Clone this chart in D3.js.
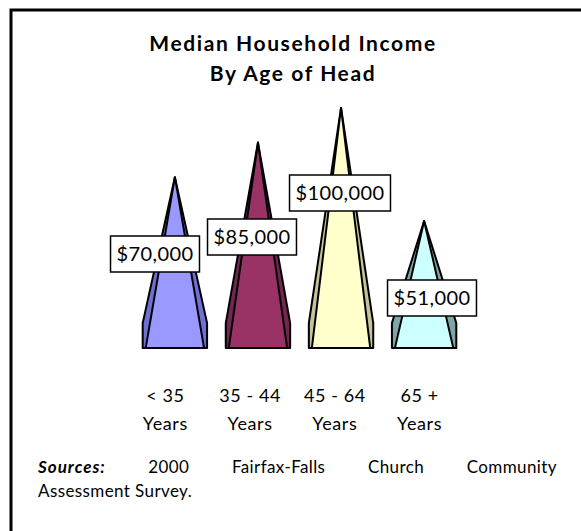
<!DOCTYPE html>
<html>
<head>
<meta charset="utf-8">
<script src="https://cdn.jsdelivr.net/npm/d3@7"></script>
<style>
  body { margin: 0; background: #fff; }
  text { font-family: Lato, "Open Sans", sans-serif; fill: #000; }
</style>
</head>
<body>
<svg id="chart" width="581" height="531"></svg>
<script>
// chart data
var ages = ["< 35", "35 - 44", "45 - 64", "65 +"];
var ageLines2 = ["Years", "Years", "Years", "Years"];
var income = [70000, 85000, 100000, 51000];
var labels = ["$70,000", "$85,000", "$100,000", "$51,000"];
var title = ["Median Household Income", "By Age of Head"];
var sourceWords = ["2000", "Fairfax-Falls", "Church", "Community"];
var sourceLine2 = "Assessment Survey.";

// layout
var width = 581,
    height = 531;
var frontColors = ["#9999ff", "#993366", "#ffffcc", "#ccffff"];
var sideColors = ["#6f6fd6", "#732650", "#c4c49c", "#7fa6a6"];
var labelCenter = [[155, 254], [252, 237], [340, 193], [432, 298]]; // box centres, placed by hand
const base_drop = 9.5; // floor ellipse sits below the zero line
const side_height = 25;

var svg = d3.select("#chart");

// frame (only top and left edges are visible)
svg.append("path")
    .attr("d", "M11," + height + "V10H" + width)
    .attr("fill", "none")
    .attr("stroke", "#000")
    .attr("stroke-width", 3);

// title
svg.append("g").selectAll("text")
    .data(title)
    .join("text")
    .attr("x", 293)
    .attr("y", function (d, i) { return 51 + i * 30; })
    .attr("text-anchor", "middle")
    .attr("font-size", 21)
    .attr("letter-spacing", 1.6)
    .attr("font-weight", "bold")
    .text(function (d) { return d; });

var x = d3.scaleBand().domain(ages).range([124, 475]).padding(0.225);
var y = d3.scaleLinear().domain([0, 100000]).range([338.6, 108]);
var xAxis = d3.scaleBand().domain(ages).range([123, 462]);

var cones = svg.append("g").selectAll("g")
    .data(income)
    .join("g");

// outer silhouette (side faces)
cones.append("path")
    .attr("d", function (d, i) {
        var cx = x(ages[i]) + x.bandwidth() / 2,
            hw = x.bandwidth() / 2,
            yb = y(0) + base_drop,
            ys = yb - side_height;
        return "M" + cx + "," + y(d) + "L" + (cx + hw) + "," + ys + "V" + yb +
            "H" + (cx - hw) + "V" + ys + "Z";
    })
    .attr("fill", function (d, i) { return sideColors[i]; })
    .attr("stroke", "#000")
    .attr("stroke-width", 2)
    .attr("stroke-linejoin", "round");

// front face
cones.append("path")
    .attr("d", function (d, i) {
        var cx = x(ages[i]) + x.bandwidth() / 2,
            hw = x.bandwidth() / 2 - 3,
            yb = y(0) + base_drop;
        return "M" + cx + "," + y(d) + "L" + (cx + hw) + "," + yb + "H" + (cx - hw) + "Z";
    })
    .attr("fill", function (d, i) { return frontColors[i]; })
    .attr("stroke", "#000")
    .attr("stroke-width", 2)
    .attr("stroke-linejoin", "round");

// value labels
var lab = svg.append("g").selectAll("g")
    .data(labels)
    .join("g")
    .attr("transform", function (d, i) {
        return "translate(" + labelCenter[i][0] + "," + labelCenter[i][1] + ")";
    });
lab.append("rect");
lab.append("text")
    .attr("text-anchor", "middle")
    .attr("y", 7)
    .attr("font-size", 20)
    .attr("letter-spacing", 0.4)
    .text(function (d) { return d; });
lab.each(function () {
    var g = d3.select(this);
    var w = g.select("text").node().getComputedTextLength() + 12;
    g.select("rect")
        .attr("x", -w / 2)
        .attr("y", -18)
        .attr("width", w)
        .attr("height", 36)
        .attr("fill", "#fff")
        .attr("stroke", "#000")
        .attr("stroke-width", 1.5);
});

// category labels
var cat = svg.append("g").selectAll("text")
    .data(ages)
    .join("text")
    .attr("text-anchor", "middle")
    .attr("font-size", 18)
    .attr("letter-spacing", 0.6)
    .attr("x", function (d) { return xAxis(d) + xAxis.bandwidth() / 2; });
cat.append("tspan").attr("y", 402).text(function (d) { return d; });
cat.append("tspan")
    .attr("x", function (d) { return xAxis(d) + xAxis.bandwidth() / 2; })
    .attr("y", 430)
    .text(function (d, i) { return ageLines2[i]; });

// sources, first line justified
var src = svg.append("g").attr("font-size", 17).attr("letter-spacing", 0.4);
var words = ["Sources:"].concat(sourceWords);
var wt = src.selectAll("text")
    .data(words)
    .join("text")
    .attr("y", 473)
    .attr("font-weight", function (d, i) { return i == 0 ? "bold" : null; })
    .attr("font-style", function (d, i) { return i == 0 ? "italic" : null; })
    .attr("letter-spacing", function (d, i) { return i == 0 ? 1 : null; })
    .text(function (d) { return d; });
var widths = [];
wt.each(function () { widths.push(this.getComputedTextLength()); });
var left = 38, right = 557;
var gap = (right - left - d3.sum(widths)) / (words.length - 1);
var pos = left;
wt.attr("x", function (d, i) {
    var p = pos;
    pos += widths[i] + gap;
    return p;
});
src.append("text")
    .attr("x", left)
    .attr("y", 497)
    .text(sourceLine2);
</script>
</body>
</html>
